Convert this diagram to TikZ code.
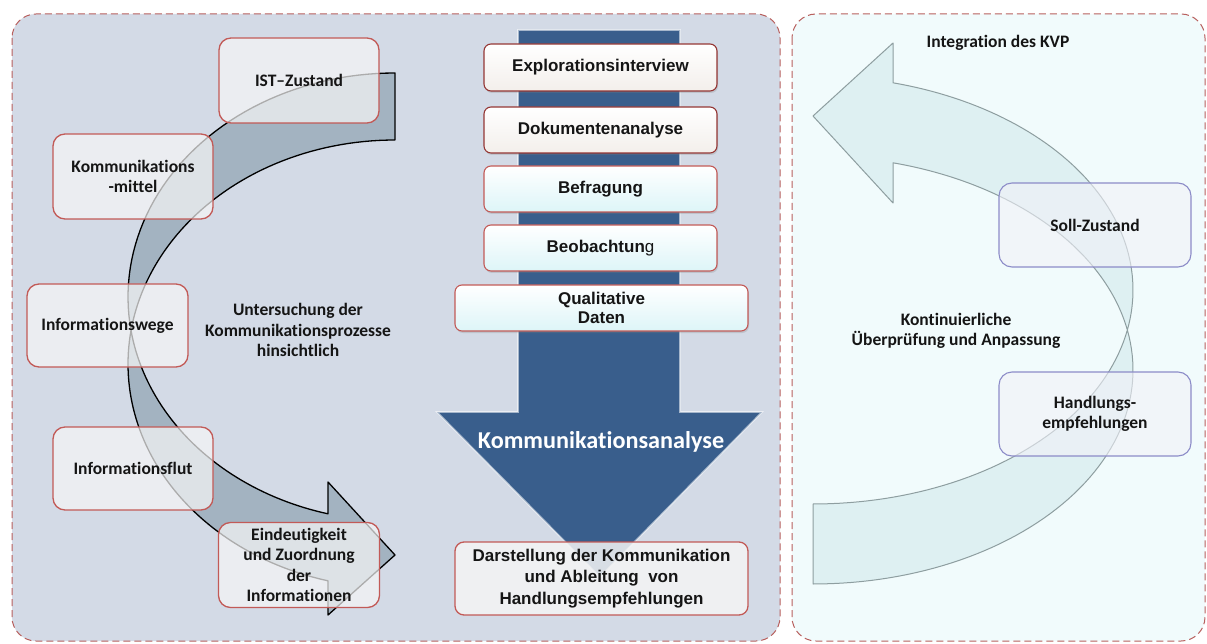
\documentclass[tikz,border=0pt]{standalone}
\usepackage{fontspec}
\setmainfont{Carlito}[Ligatures=NoCommon]
\newfontfamily\arialf{Liberation Sans}
\usetikzlibrary{shadows}
\definecolor{panelL}{HTML}{D3DAE6}
\definecolor{panelR}{HTML}{F1FBFC}
\definecolor{dashred}{HTML}{B8605E}
\definecolor{boxred}{HTML}{C25A57}
\definecolor{darkred}{HTML}{943634}
\definecolor{arrowgray}{HTML}{A3B3C1}
\definecolor{bluearrow}{HTML}{395E8C}
\definecolor{cyanarrow}{HTML}{DCEFF1}
\definecolor{cyanedge}{HTML}{8E9EA0}
\definecolor{lav}{HTML}{8C8CC8}
\definecolor{txt}{HTML}{151515}
\definecolor{warmbox}{HTML}{F3EFEB}
\definecolor{cyanbox}{HTML}{DDF5F8}
\begin{document}
\begin{tikzpicture}[x=1pt,y=-1pt,
  panel/.style={dash pattern=on 7pt off 4pt, draw=dashred, line width=1pt, rounded corners=24pt},
  lbox/.style={draw=boxred, line width=1.3pt, fill=white!93!gray, fill opacity=0.7, draw opacity=1, text opacity=1,
    rounded corners=12pt, minimum width=160pt, minimum height=85pt, inner sep=0pt, align=center,
    font=\fontsize{17.5}{20.5}\selectfont\bfseries, text=txt},
  rbox/.style={draw=lav, line width=1.1pt, fill=white!88!lav, fill opacity=0.6, draw opacity=1, text opacity=1,
    rounded corners=13pt, minimum width=192pt, minimum height=84pt, inner sep=0pt, align=center,
    font=\fontsize{17.5}{20.5}\selectfont\bfseries, text=txt},
  mboxbase/.style={line width=1.1pt, rounded corners=7pt, minimum width=233pt, minimum height=46pt,
    inner sep=0pt, align=center, font=\arialf\bfseries\fontsize{17}{19.5}\selectfont, text=txt,
    drop shadow={shadow xshift=1pt, shadow yshift=-2pt, opacity=0.25}},
  mboxw/.style={mboxbase, draw=darkred, top color=white, bottom color=warmbox},
  mboxc/.style={mboxbase, draw=boxred, top color=white, bottom color=cyanbox},
  plain/.style={align=center, font=\fontsize{17.5}{20.5}\selectfont\bfseries, text=txt, inner sep=0pt}
]
\useasboundingbox (0,0) rectangle (1207,644);
\fill[white] (0,0) rectangle (1207,644);

% panels
\path[panel, fill=panelL] (12,14) rectangle (780,641);
\path[panel, fill=panelR] (792,14) rectangle (1205,641);

% left curved arrow (ribbon)
\path[fill=arrowgray, draw=black, line width=1.3pt, line join=round]
  plot[domain=270:171.4, samples=50] ({395+267*cos(\x)},{297+224*sin(\x)})
  -- plot[domain=188.6:104.54, samples=60] ({395+267*cos(\x)},{364+224*sin(\x)})
  -- (328,615) -- (395,555) -- (328,482)
  -- plot[domain=104.54:171.4, samples=50] ({395+267*cos(\x)},{297+224*sin(\x)})
  -- plot[domain=188.6:270, samples=50] ({395+267*cos(\x)},{364+224*sin(\x)})
  -- cycle;

% right curved arrow (ribbon)
\path[fill=cyanarrow, fill opacity=0.9, draw=cyanedge, line width=1pt, line join=round]
  plot[domain=90:-10.8, samples=60] ({813+320*cos(\x)},{370+214*sin(\x)})
  -- plot[domain=10.8:-75.52, samples=60] ({813+320*cos(\x)},{290+214*sin(\x)})
  -- (893,43) -- (813,116) -- (893,203)
  -- plot[domain=-75.52:-10.8, samples=50] ({813+320*cos(\x)},{370+214*sin(\x)})
  -- plot[domain=10.8:90, samples=50] ({813+320*cos(\x)},{290+214*sin(\x)})
  -- cycle;

% blue down arrow
\path[fill=bluearrow, draw=white, draw opacity=0.55, line width=1.6pt, line join=miter]
  (518,30) -- (680,30) -- (680,412) -- (762,412) -- (600,577) -- (437,412) -- (518,412) -- cycle;
\node[font=\fontsize{24.2}{26}\selectfont\bfseries, text=white, inner sep=0pt] (ka) at (601,442) {Kommunikationsanalyse};

% middle boxes
\node[mboxw, minimum height=47pt] (expl) at (600.5,67.5) {Explorationsinterview};
\node[mboxw] (doku) at (600.5,130) {Dokumentenanalyse};
\node[mboxc] (befr) at (600.5,189) {Befragung};
\node[mboxc] (beob) at (600.5,248) {Beobachtun{\mdseries g}};
\node[mboxc, minimum width=293pt] (qual) at (601.5,308) {Qualitative\\Daten};
\node[draw=boxred, line width=1.3pt, fill=white!92!gray, fill opacity=0.85, text opacity=1, rounded corners=9pt,
  minimum width=293pt, minimum height=73pt, inner sep=0pt, align=center,
  font=\arialf\bfseries\fontsize{17}{21.5}\selectfont, text=txt] (darst) at (601.5,578.5)
  {Darstellung der Kommunikation\\und Ableitung\ \ von\\Handlungsempfehlungen};

% left boxes
\node[lbox] (ist) at (299,80.5) {IST–Zustand};
\node[lbox] (komm) at (133,176.5) {Kommunikations\\-mittel};
\node[lbox, minimum width=161pt, minimum height=83pt] (wege) at (107.5,325.5) {Informationswege};
\node[lbox, minimum height=83pt] (flut) at (133,468.5) {Informationsflut};
\node[lbox, minimum width=161pt] (eind) at (299,565) {Eindeutigkeit\\und Zuordnung\\der\\Informationen};

\node[plain] (unters) at (298,330) {Untersuchung der\\Kommunikationsprozesse\\hinsichtlich};

% right side
\node[plain] (integ) at (998,43) {Integration des KVP};
\node[rbox] (soll) at (1095,225) {Soll-Zustand};
\node[plain] (kont) at (956,331) {Kontinuierliche\\Überprüfung und Anpassung};
\node[rbox] (handl) at (1095,414) {Handlungs-\\empfehlungen};
\end{tikzpicture}
\end{document}
